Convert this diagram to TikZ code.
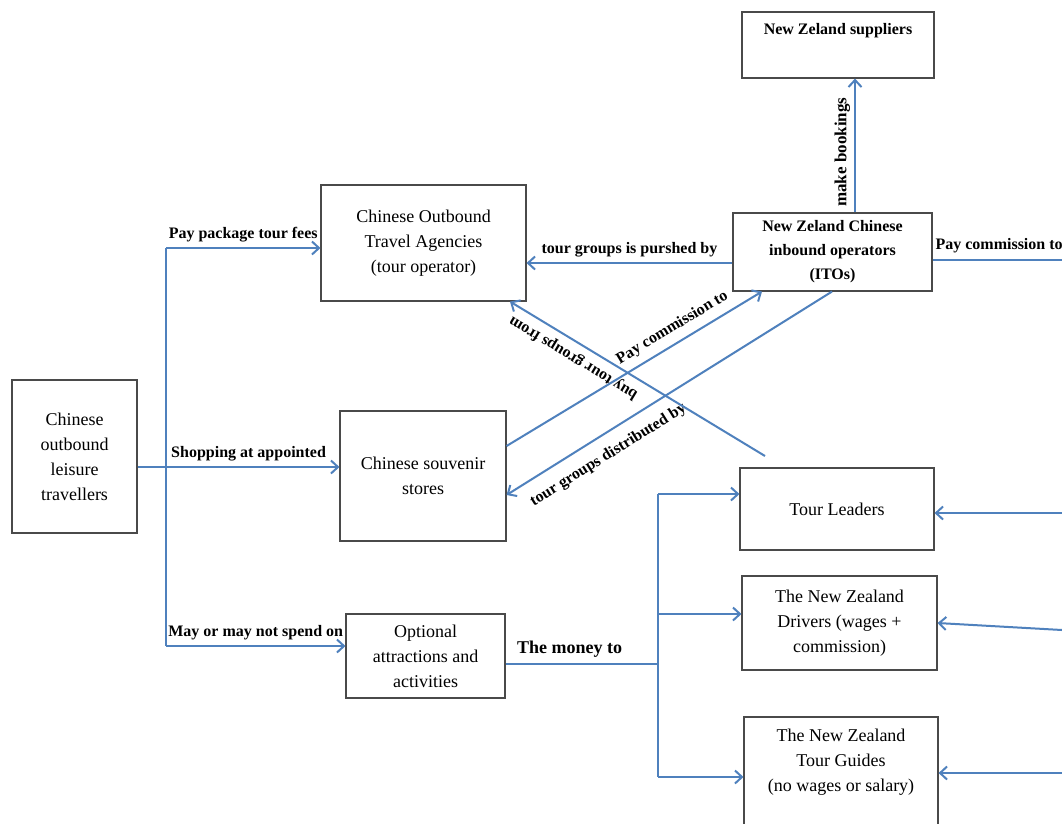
\documentclass[tikz,border=0pt]{standalone}
\usepackage{fontspec}
\setmainfont{Liberation Serif}
\usetikzlibrary{arrows.meta}
\definecolor{flowColor}{HTML}{4F81BD}
\definecolor{boxColor}{HTML}{4A4A4A}
\tikzstyle{box} = [rectangle,
draw=boxColor,
line width=1.1pt,
align=center,
inner sep=2pt,
font=\fontsize{18}{25}\selectfont]
\tikzstyle{boldbox} = [box,
font=\bfseries\fontsize{16}{24}\selectfont]
\tikzstyle{arrow} = [draw=flowColor, line width=2pt, ->]
\tikzstyle{line} = [draw=flowColor, line width=2pt]
\tikzstyle{tag} = [font=\bfseries\fontsize{16}{18}\selectfont, inner sep=2pt]

\begin{document}
\begin{tikzpicture}[x=1pt,y=-1pt,>={Straight Barb[length=7pt,width=13pt]}]
    \useasboundingbox[fill=white] (0,0) rectangle (1062,823);
    % Nodes
    \node[box, minimum width=125pt, minimum height=153pt] (travellers) at (74.5,456.5) {Chinese\\outbound\\leisure\\travellers};
    \node[box, minimum width=205pt, minimum height=116pt] (agencies) at (423.5,243) {Chinese Outbound\\Travel Agencies\\(tour operator)};
    \node[box, minimum width=166pt, minimum height=130pt] (souvenir) at (423,476) {Chinese souvenir\\stores};
    \node[box, minimum width=159pt, minimum height=84pt] (optional) at (425.5,656) {Optional\\attractions and\\activities};
    \node[boldbox, minimum width=192pt, minimum height=66pt] (suppliers) at (838,45) {New Zeland suppliers\\ \strut};
    \node[boldbox, minimum width=199pt, minimum height=78pt] (itos) at (832.5,252) {New Zeland Chinese\\inbound operators\\(ITOs)};
    \node[box, minimum width=194pt, minimum height=82pt] (leaders) at (837,509) {Tour Leaders};
    \node[box, minimum width=195pt, minimum height=94pt] (drivers) at (839.5,623) {The New Zealand\\Drivers (wages +\\commission)};
    \node[box, minimum width=194pt, minimum height=118pt] (guides) at (841,776) {The New Zealand\\Tour Guides\\(no wages or salary)\\ \strut};

    % Junctions
    \coordinate (trunkT) at (166,248);
    \coordinate (trunkM) at (166,467);
    \coordinate (trunkB) at (166,646);
    \coordinate (money) at (658,664);
    \coordinate (moneyT) at (658,494);
    \coordinate (moneyM) at (658,614);
    \coordinate (moneyB) at (658,777);
    \coordinate (payR) at (1062,260);
    \coordinate (leadersR) at (1062,513);
    \coordinate (driversR) at (1062,630);
    \coordinate (guidesR) at (1062,773);
    \coordinate (buyStart) at (765,456);

    % Arrows
    \draw[line] (trunkT) -- (trunkB);
    \draw[arrow] (trunkT) -- (agencies.west|-trunkT) node[tag, midway, above=3pt] {Pay package tour fees};
    \draw[arrow] (travellers.east|-trunkM) -- (souvenir.west|-trunkM) node[tag, pos=0.55, above=3pt] {Shopping at appointed};
    \draw[arrow] (trunkB) -- (optional.west|-trunkB) node[tag, midway, above=3pt] {May or may not spend on};
    \draw[line] (optional.east|-money) -- (money) node[tag, pos=0.42, above=4pt, font=\bfseries\fontsize{18}{20}\selectfont] {The money to};
    \draw[line] (moneyT) -- (moneyB);
    \draw[arrow] (moneyT) -- (leaders.west|-moneyT);
    \draw[arrow] (moneyM) -- (drivers.west|-moneyM);
    \draw[arrow] (moneyB) -- (guides.west|-moneyB);
    \draw[arrow] (leadersR) -- (leaders.east|-leadersR);
    \draw[arrow] (driversR) -- (drivers.east);
    \draw[arrow] (guidesR) -- (guides.east|-guidesR);
    \draw[line] (itos.east|-payR) -- (payR) node[tag, pos=0, anchor=south west, yshift=4pt] {Pay commission to};
    \draw[arrow] (itos.north-|855,0) -- (suppliers.south-|855,0) node[tag, pos=0.45, sloped, above=2pt, font=\bfseries\fontsize{17}{18}\selectfont] {make bookings};
    \draw[arrow] (itos.west|-0,263) -- (agencies.east|-0,263) node[tag, midway, above=3pt] {tour groups is purshed by};
    \draw[arrow] (souvenir.east|-0,446) -- (itos.south-|762,0) node[tag, pos=0.68, sloped, above=5pt] {Pay commission to};
    \draw[arrow, <-] (souvenir.east|-0,495) -- (itos.south-|832,0) node[tag, pos=0.28, sloped, below=10pt] {tour groups distributed by};
    \draw[arrow] (buyStart) -- (agencies.south-|510,0) node[tag, pos=0.72, sloped, allow upside down, above=5pt] {buy tour groups from};
\end{tikzpicture}
\end{document}
